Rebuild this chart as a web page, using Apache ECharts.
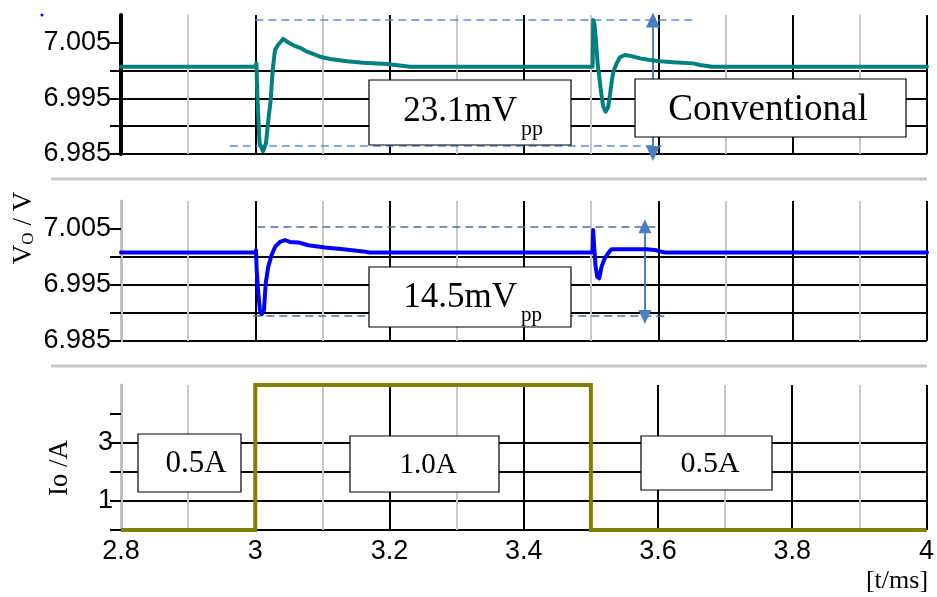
<!DOCTYPE html>
<html>
<head>
<meta charset="utf-8">
<script src="https://cdn.jsdelivr.net/npm/echarts@6/dist/echarts.min.js"></script>
<style>
html,body{margin:0;padding:0;background:#fff;}
#chart{width:937px;height:597px;}
</style>
</head>
<body>
<div id="chart"></div>
<script>
// ---- data ----
// Conventional controller output voltage (V) vs time (ms)
const tConv = [2.8, 3.0, 3.0016, 3.0025, 3.004, 3.0062, 3.0114, 3.0159, 3.0193, 3.0229, 3.0258, 3.0293, 3.0337, 3.0416, 3.0486, 3.056, 3.0665, 3.077, 3.0858, 3.0963, 3.1112, 3.1365, 3.1603, 3.196, 3.215, 3.23,
  3.5021, 3.5031, 3.5051, 3.507, 3.5096, 3.512, 3.515, 3.518, 3.5215, 3.5254, 3.528, 3.5305, 3.533, 3.538, 3.5428, 3.5503, 3.5602, 3.5726, 3.5875, 3.6024, 3.6223, 3.652, 3.662, 3.68, 4.0];
const vConv = [7.0007, 7.0007, 7.0013, 6.9974, 6.9929, 6.9870, 6.9855, 6.9870, 6.9911, 6.9947, 7.0001, 7.0037, 7.0046, 7.0057, 7.0051, 7.0046, 7.0041, 7.0034, 7.0030, 7.0025, 7.0021, 7.0017, 7.0014, 7.0012, 7.0009, 7.0007,
  7.0007, 7.0091, 7.0082, 7.0055, 7.0013, 6.9989, 6.9959, 6.9935, 6.9926, 6.9935, 6.9956, 6.9980, 6.9998, 7.0013, 7.0024, 7.0028, 7.0026, 7.0022, 7.0019, 7.0017, 7.0015, 7.0013, 7.0010, 7.0007, 7.0007];
// Proposed controller output voltage
const tProp = [2.8, 3.0, 3.001, 3.002, 3.004, 3.0069, 3.0095, 3.0129, 3.0154, 3.0193, 3.0244, 3.0293, 3.0367, 3.0442, 3.0516, 3.064, 3.0789, 3.1035, 3.131, 3.151, 3.1606, 3.17,
  3.5021, 3.503, 3.5045, 3.5066, 3.509, 3.512, 3.5155, 3.5204, 3.5254, 3.5304, 3.5527, 3.5825, 3.5974, 3.6023, 3.61, 4.0];
const vProp = [7.0008, 7.0008, 7.0012, 6.9977, 6.9941, 6.9905, 6.9898, 6.9905, 6.9953, 6.9983, 7.0004, 7.0018, 7.0027, 7.0030, 7.0027, 7.0026, 7.0021, 7.0017, 7.0014, 7.0011, 7.0010, 7.0008,
  7.0008, 7.0048, 7.0018, 6.9983, 6.9965, 6.9962, 6.9983, 6.9998, 7.0007, 7.0014, 7.0014, 7.0014, 7.0012, 7.0010, 7.0008, 7.0008];
// Load current step (plotted level)
const tIo = [2.8, 3.0, 3.0, 3.5, 3.5, 4.0];
const vIo = [0, 0, 5, 5, 0, 0];
// peak-to-peak annotation levels
const convPeak = [7.0092, 6.9864];   // dashed lines
const convArrow = [7.0091, 6.9851];
const propPeak = [7.0054, 6.9895];
const propArrow = [7.0055, 6.9893];
// tick labels
const xTickLabels = [2.8, 3.0, 3.2, 3.4, 3.6, 3.8, 4.0];
const vTickLabels = [6.985, 6.995, 7.005];
const vTicks = [6.985, 6.990, 6.995, 7.000, 7.005];
const ioTickLabels = [1, 3];
const ioTicks = [0, 1, 2, 3, 4];

const zip = (a, b) => a.map((x, i) => [x, b[i]]);

const chart = echarts.init(document.getElementById('chart'), null, {renderer: 'canvas'});

function xAx(i) {
  return {
    type: 'value', gridIndex: i, min: 2.8, max: 4.0, interval: 0.1,
    axisLine: {show: false}, axisTick: {show: false},
    axisLabel: i === 2 ? {
      show: true, customValues: xTickLabels,
      formatter: v => String(Math.round(v * 10) / 10),
      fontFamily: 'Liberation Sans', fontSize: 27, color: '#000', margin: 8
    } : {show: false},
    splitLine: {show: true, showMinLine: false, showMaxLine: true,
      lineStyle: {color: ['#c8c8c8', '#000'], width: 2}}
  };
}
function yAxV(i, axisColor, axisWidth) {
  return {
    type: 'value', gridIndex: i, min: 6.985, max: 7.010, interval: 0.005,
    axisLine: {show: true, onZero: false, lineStyle: {color: axisColor, width: axisWidth}},
    axisTick: {show: true, length: 11, customValues: vTicks, lineStyle: {color: '#000', width: 2}},
    axisLabel: {customValues: vTickLabels, formatter: v => v.toFixed(3),
      fontFamily: 'Liberation Sans', fontSize: 27, color: '#000', margin: 10},
    splitLine: {show: true, showMinLine: true, showMaxLine: false, lineStyle: {color: '#000', width: 2}}
  };
}

const option = {
  backgroundColor: '#fff',
  animation: false,
  grid: [
    {left: 121, right: 10, top: 15, height: 139},
    {left: 121, right: 10, top: 201, height: 140},
    {left: 121, right: 10, top: 385, height: 145}
  ],
  xAxis: [xAx(0), xAx(1), xAx(2)],
  yAxis: [
    yAxV(0, '#000', 4),
    yAxV(1, '#c0c0c0', 3),
    {
      type: 'value', gridIndex: 2, min: 0, max: 5, interval: 1,
      axisLine: {show: true, onZero: false, lineStyle: {color: '#c0c0c0', width: 3}},
      axisTick: {show: true, length: 11, customValues: ioTicks, lineStyle: {color: '#000', width: 2}},
      axisLabel: {customValues: ioTickLabels, fontFamily: 'Liberation Sans', fontSize: 27, color: '#000', margin: 8},
      splitLine: {show: true, showMinLine: true, showMaxLine: false, lineStyle: {color: '#000', width: 2}}
    }
  ],
  series: [
    {
      type: 'line', xAxisIndex: 0, yAxisIndex: 0, data: zip(tConv, vConv),
      showSymbol: false, z: 5,
      lineStyle: {color: '#008080', width: 4, join: 'round', cap: 'round'},
      markLine: {
        silent: true, animation: false, label: {show: false},
        data: [
          [{coord: [3.0, convPeak[0]], symbol: 'none', lineStyle: {color: '#5b8fd9', width: 1.5, type: [8, 5]}},
           {coord: [3.655, convPeak[0]], symbol: 'none'}],
          [{coord: [2.962, convPeak[1]], symbol: 'none', lineStyle: {color: '#5b8fd9', width: 1.5, type: [8, 5]}},
           {coord: [3.605, convPeak[1]], symbol: 'none'}],
          [{coord: [3.592, convArrow[0]], symbol: 'triangle', symbolSize: [14, 15], lineStyle: {color: '#4a7fc1', width: 2, type: 'solid'}, itemStyle: {color: '#4a7fc1'}},
           {coord: [3.592, convArrow[1]], symbol: 'triangle', symbolSize: [14, 15]}]
        ]
      }
    },
    {
      type: 'line', xAxisIndex: 1, yAxisIndex: 1, data: zip(tProp, vProp),
      showSymbol: false, z: 5,
      lineStyle: {color: '#0000ff', width: 4, join: 'round', cap: 'round'},
      markLine: {
        silent: true, animation: false, label: {show: false},
        data: [
          [{coord: [3.003, propPeak[0]], symbol: 'none', lineStyle: {color: '#4f6f9f', width: 1.5, type: [8, 5]}},
           {coord: [3.598, propPeak[0]], symbol: 'none'}],
          [{coord: [2.997, propPeak[1]], symbol: 'none', lineStyle: {color: '#4f6f9f', width: 1.5, type: [8, 5]}},
           {coord: [3.61, propPeak[1]], symbol: 'none'}],
          [{coord: [3.58, propArrow[0]], symbol: 'triangle', symbolSize: [13, 14], lineStyle: {color: '#4a7fc1', width: 2, type: 'solid'}, itemStyle: {color: '#4a7fc1'}},
           {coord: [3.58, propArrow[1]], symbol: 'triangle', symbolSize: [13, 14]}]
        ]
      }
    },
    {
      type: 'line', xAxisIndex: 2, yAxisIndex: 2, data: zip(tIo, vIo),
      showSymbol: false, z: 5,
      lineStyle: {color: '#808000', width: 4, join: 'miter'}
    }
  ],
  graphic: [
    {type: 'line', z: 1, shape: {x1: 51, y1: 179, x2: 927, y2: 179}, style: {stroke: '#c8c8c8', lineWidth: 3}},
    {type: 'line', z: 1, shape: {x1: 51, y1: 366, x2: 927, y2: 366}, style: {stroke: '#c8c8c8', lineWidth: 3}},
    {type: 'circle', z: 1, shape: {cx: 42, cy: 15, r: 1.5}, style: {fill: '#0000ff'}},
    {type: 'text', z: 100, x: 24, y: 228, rotation: Math.PI / 2,
      style: {text: '{a|V}{b|O}{a| / V}', textAlign: 'center', textVerticalAlign: 'middle',
        rich: {a: {fontFamily: 'Liberation Serif', fontSize: 27, fill: '#000', verticalAlign: 'bottom'},
               b: {fontFamily: 'Liberation Serif', fontSize: 17, fill: '#000', verticalAlign: 'bottom'}}}},
    {type: 'text', z: 100, x: 60, y: 468, rotation: Math.PI / 2,
      style: {text: 'Io /A', font: '27px "Liberation Serif"', fill: '#000', textAlign: 'center', textVerticalAlign: 'middle'}},
    {type: 'text', z: 100, x: 897, y: 581,
      style: {text: '[t/ms]', font: '26px "Liberation Serif"', fill: '#000', textAlign: 'center', textVerticalAlign: 'middle'}},

    // 23.1 mVpp box
    {type: 'rect', z: 100, shape: {x: 369, y: 80, width: 202, height: 65}, style: {fill: '#fff', stroke: '#000', lineWidth: 1.2}},
    {type: 'text', z: 101, x: 517, y: 112, style: {text: '23.1mV', font: '35px "Liberation Serif"', fill: '#000', textAlign: 'right', textVerticalAlign: 'middle'}},
    {type: 'text', z: 101, x: 521, y: 118, style: {text: 'pp', font: '22px "Liberation Serif"', fill: '#000', textAlign: 'left', textVerticalAlign: 'top'}},
    // Conventional box
    {type: 'rect', z: 100, shape: {x: 635, y: 79, width: 271, height: 58}, style: {fill: '#fff', stroke: '#000', lineWidth: 1.2}},
    {type: 'text', z: 101, x: 768, y: 110, style: {text: 'Conventional', font: '37px "Liberation Serif"', fill: '#000', textAlign: 'center', textVerticalAlign: 'middle'}},
    // 14.5 mVpp box
    {type: 'rect', z: 100, shape: {x: 369, y: 267, width: 202, height: 60}, style: {fill: '#fff', stroke: '#000', lineWidth: 1.2}},
    {type: 'text', z: 101, x: 517, y: 298, style: {text: '14.5mV', font: '35px "Liberation Serif"', fill: '#000', textAlign: 'right', textVerticalAlign: 'middle'}},
    {type: 'text', z: 101, x: 521, y: 305, style: {text: 'pp', font: '21px "Liberation Serif"', fill: '#000', textAlign: 'left', textVerticalAlign: 'top'}},
    // current boxes
    {type: 'rect', z: 100, shape: {x: 138, y: 434, width: 103, height: 58}, style: {fill: '#fff', stroke: '#000', lineWidth: 1.2}},
    {type: 'text', z: 101, x: 196, y: 464, style: {text: '0.5A', font: '31px "Liberation Serif"', fill: '#000', textAlign: 'center', textVerticalAlign: 'middle'}},
    {type: 'rect', z: 100, shape: {x: 350, y: 436, width: 149, height: 56}, style: {fill: '#fff', stroke: '#000', lineWidth: 1.2}},
    {type: 'text', z: 101, x: 428, y: 465, style: {text: '1.0A', font: '29px "Liberation Serif"', fill: '#000', textAlign: 'center', textVerticalAlign: 'middle'}},
    {type: 'rect', z: 100, shape: {x: 641, y: 436, width: 131, height: 54}, style: {fill: '#fff', stroke: '#000', lineWidth: 1.2}},
    {type: 'text', z: 101, x: 710, y: 464, style: {text: '0.5A', font: '30px "Liberation Serif"', fill: '#000', textAlign: 'center', textVerticalAlign: 'middle'}}
  ]
};
chart.setOption(option);
</script>
</body>
</html>
